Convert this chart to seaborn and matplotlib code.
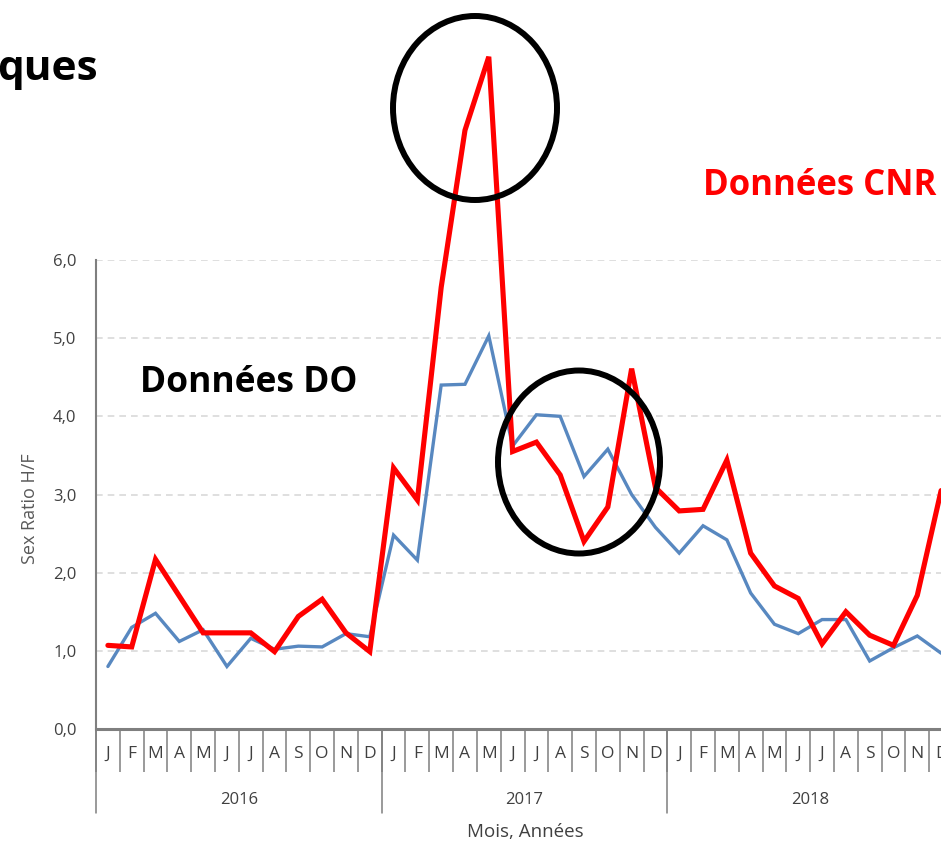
import matplotlib
matplotlib.use("Agg")
import matplotlib.pyplot as plt
from matplotlib.patches import Ellipse
import pandas as pd
import seaborn as sns

# Monthly sex ratio H/F, Jan 2016 - Dec 2018
MONTHS = ["J", "F", "M", "A", "M", "J", "J", "A", "S", "O", "N", "D"]
YEARS = ["2016", "2017", "2018"]
DO_RATIO = [
    0.80, 1.30, 1.48, 1.12, 1.27, 0.80, 1.16, 1.02, 1.06, 1.05, 1.22, 1.18,
    2.48, 2.16, 4.40, 4.41, 5.03, 3.62, 4.02, 4.00, 3.23, 3.58, 3.00, 2.58,
    2.25, 2.60, 2.42, 1.74, 1.34, 1.22, 1.40, 1.40, 0.87, 1.04, 1.19, 0.97,
]
CNR_RATIO = [
    1.07, 1.05, 2.17, 1.70, 1.23, 1.23, 1.23, 0.99, 1.44, 1.66, 1.23, 0.99,
    3.34, 2.93, 5.65, 7.66, 8.60, 3.55, 3.67, 3.25, 2.40, 2.84, 4.61, 3.09,
    2.79, 2.81, 3.44, 2.25, 1.83, 1.67, 1.09, 1.50, 1.20, 1.07, 1.71, 3.05,
]
Y_TICKS = [0, 1, 2, 3, 4, 5, 6]

W, H = 941, 844
BLUE = "#5888c0"
RED = "#ff0000"
GREY = "#595959"
DARK = "#404040"

n = len(DO_RATIO)
df = pd.DataFrame({
    "idx": list(range(n)) * 2,
    "ratio": DO_RATIO + CNR_RATIO,
    "source": ["DO"] * n + ["CNR"] * n,
})

sns.set_style("white")
plt.rcParams["font.family"] = ["Open Sans", "DejaVu Sans"]

fig = plt.figure(figsize=(W / 100, H / 100), dpi=100)
# axes runs off the right edge, like the cropped screenshot
ax = fig.add_axes([96 / W, 115 / H, 857 / W, 469 / H])

sns.lineplot(data=df[df.source == "DO"], x="idx", y="ratio", color=BLUE,
             linewidth=2.4, ax=ax)
sns.lineplot(data=df[df.source == "CNR"], x="idx", y="ratio", color=RED,
             linewidth=3.7, ax=ax)
for line in ax.lines:
    line.set_clip_on(False)
    line.set_solid_joinstyle("miter")

ax.set_xlim(-0.5, n - 0.5)
ax.set_ylim(0, 6)

# y axis
ax.set_yticks(Y_TICKS)
ax.set_yticklabels([f"{v:.1f}".replace(".", ",") for v in Y_TICKS])
ax.tick_params(axis="y", length=0, pad=14, labelsize=12, labelcolor=DARK)
ax.yaxis.grid(True, linestyle=(0, (4, 3)), color="#d9d9d9", linewidth=1.2)
ax.set_ylabel("Sex Ratio H/F", fontsize=13, color=GREY)
ax.yaxis.set_label_coords(-0.066, 0.47)

# x axis: month separators as major ticks, letters as minor tick labels
ax.set_xticks([k - 0.5 for k in range(n + 1)])
ax.set_xticklabels([])
ax.tick_params(axis="x", which="major", length=31, width=1.1, color="#7f7f7f",
               direction="out", bottom=True)
ax.set_xticks(range(n), minor=True)
ax.set_xticklabels(MONTHS * len(YEARS), minor=True)
ax.tick_params(axis="x", which="minor", length=0, pad=12, labelsize=12.5,
               labelcolor=DARK)
ax.set_xlabel("")

for s in ["top", "right"]:
    ax.spines[s].set_visible(False)
ax.spines["bottom"].set_color("#7f7f7f")
ax.spines["bottom"].set_linewidth(2.2)
ax.spines["left"].set_color("#7f7f7f")
ax.spines["left"].set_linewidth(1.5)

# year separators and labels
xt = ax.get_xaxis_transform()
for j, yr in enumerate(YEARS):
    ax.plot([j * 12 - 0.5] * 2, [0, -84 / 469], transform=xt, color="#7f7f7f",
            linewidth=1.1, clip_on=False)
    ax.text(j * 12 + 5.5, -71 / 469, yr, transform=xt, ha="center", va="center",
            fontsize=12, color=DARK)
ax.plot([n - 0.5] * 2, [0, -84 / 469], transform=xt, color="#7f7f7f",
        linewidth=1.1, clip_on=False)
fig.text(525 / W, 1 - 832 / H, "Mois, Années", ha="center", va="center",
         fontsize=13.5, color=DARK)

# annotations
fig.text(-3 / W, 1 - 80 / H, "ques", ha="left", va="baseline", fontsize=30.5,
         fontweight="bold", color="black")
fig.text(140 / W, 1 - 392 / H, "Données DO", ha="left", va="baseline",
         fontsize=25.5, fontweight="bold", color="black")
fig.text(703 / W, 1 - 195 / H, "Données CNR", ha="left", va="baseline",
         fontsize=25, fontweight="bold", color=RED)

for cx, cy, ew, eh in [(475, 108, 164, 184), (579, 462, 162, 183)]:
    fig.add_artist(Ellipse((cx / W, 1 - cy / H), ew / W, eh / H,
                           transform=fig.transFigure, fill=False,
                           edgecolor="black", linewidth=4.3, zorder=10))

fig.savefig("out.png", dpi=100)
